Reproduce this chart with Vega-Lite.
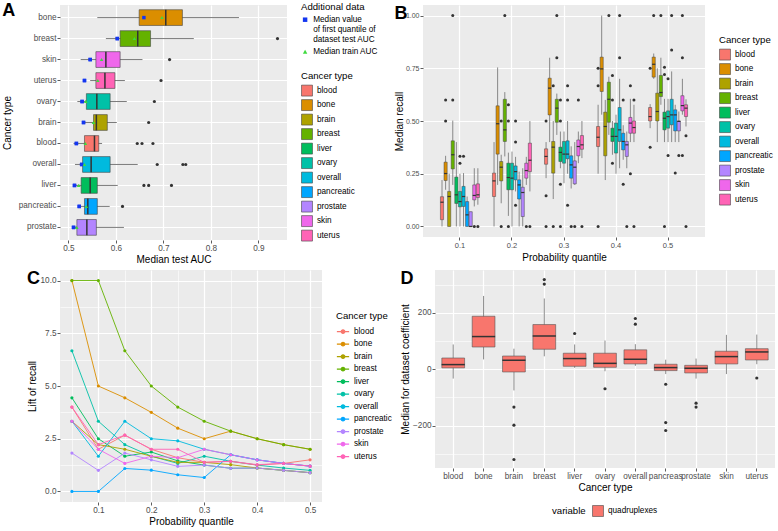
{
"$schema": "https://vega.github.io/schema/vega-lite/v6.json",
"background": "white",
"padding": {"left": 2, "top": 2, "right": 0, "bottom": 0},
"config": {
 "font": "Liberation Sans",
 "view": {"fill": "#EBEBEB", "stroke": null},
 "axis": {"domain": false, "grid": true, "gridColor": "#FFFFFF", "gridWidth": 1.2, "tickColor": "#333333", "tickSize": 3, "tickWidth": 0.8, "labelColor": "#4D4D4D", "labelFontSize": 8.2, "labelPadding": 1.5, "titleFontSize": 10, "titleFontWeight": "normal", "titleColor": "#000000", "titlePadding": 3},
 "legend": {"titleFontSize": 9.6, "titleFontWeight": "normal", "titleColor": "#000000", "labelFontSize": 8.2, "labelColor": "#000000", "symbolSize": 120, "symbolType": "square", "symbolStrokeColor": "#444444", "symbolStrokeWidth": 0.6, "symbolOpacity": 1, "rowPadding": 0.5, "titlePadding": 4, "offset": 14, "labelOffset": 4, "layout": {"right": {"anchor": "middle", "direction": "vertical", "margin": 16}, "bottom": {"anchor": "middle", "direction": "horizontal"}}},
 "title": {"fontSize": 18, "fontWeight": "bold", "anchor": "start", "frame": "bounds", "baseline": "top", "offset": -18, "color": "#000000"}
},
"datasets": {
 "a_box": [
  {"type":"bone","lower":0.561,"q1":0.649,"median":0.705,"q3":0.740,"upper":0.859},
  {"type":"breast","lower":0.579,"q1":0.609,"median":0.646,"q3":0.673,"upper":0.764},
  {"type":"skin","lower":0.526,"q1":0.558,"median":0.579,"q3":0.609,"upper":0.656},
  {"type":"uterus","lower":0.546,"q1":0.558,"median":0.577,"q3":0.598,"upper":0.619},
  {"type":"ovary","lower":0.519,"q1":0.538,"median":0.560,"q3":0.588,"upper":0.623},
  {"type":"brain","lower":0.535,"q1":0.553,"median":0.559,"q3":0.582,"upper":0.602},
  {"type":"blood","lower":0.511,"q1":0.534,"median":0.555,"q3":0.564,"upper":0.571},
  {"type":"overall","lower":0.514,"q1":0.530,"median":0.548,"q3":0.588,"upper":0.646},
  {"type":"liver","lower":0.511,"q1":0.527,"median":0.546,"q3":0.561,"upper":0.604},
  {"type":"pancreatic","lower":0.523,"q1":0.534,"median":0.541,"q3":0.561,"upper":0.587},
  {"type":"prostate","lower":0.511,"q1":0.518,"median":0.539,"q3":0.559,"upper":0.617}
 ],
 "a_out": [
  {"type":"breast","value":0.940},{"type":"skin","value":0.713},{"type":"uterus","value":0.695},{"type":"ovary","value":0.681},{"type":"brain","value":0.669},
  {"type":"blood","value":0.645},{"type":"blood","value":0.655},{"type":"blood","value":0.678},
  {"type":"overall","value":0.687},{"type":"overall","value":0.741},{"type":"overall","value":0.747},
  {"type":"liver","value":0.659},{"type":"liver","value":0.669},{"type":"liver","value":0.717},
  {"type":"pancreatic","value":0.614}
 ],
 "a_add": [
  {"type":"bone","series":"Median value of first quantile of dataset test AUC","value":0.659},{"type":"bone","series":"Median train AUC","value":0.697},
  {"type":"breast","series":"Median value of first quantile of dataset test AUC","value":0.603},{"type":"breast","series":"Median train AUC","value":0.639},
  {"type":"skin","series":"Median value of first quantile of dataset test AUC","value":0.546},{"type":"skin","series":"Median train AUC","value":0.570},
  {"type":"uterus","series":"Median value of first quantile of dataset test AUC","value":0.534},{"type":"uterus","series":"Median train AUC","value":0.562},
  {"type":"ovary","series":"Median value of first quantile of dataset test AUC","value":0.529},{"type":"ovary","series":"Median train AUC","value":0.537},
  {"type":"brain","series":"Median value of first quantile of dataset test AUC","value":0.532},{"type":"brain","series":"Median train AUC","value":0.553},
  {"type":"blood","series":"Median value of first quantile of dataset test AUC","value":0.517},{"type":"blood","series":"Median train AUC","value":0.536},
  {"type":"overall","series":"Median value of first quantile of dataset test AUC","value":0.528},{"type":"overall","series":"Median train AUC","value":0.534},
  {"type":"liver","series":"Median value of first quantile of dataset test AUC","value":0.513},{"type":"liver","series":"Median train AUC","value":0.522},
  {"type":"pancreatic","series":"Median value of first quantile of dataset test AUC","value":0.523},{"type":"pancreatic","series":"Median train AUC","value":0.538},
  {"type":"prostate","series":"Median value of first quantile of dataset test AUC","value":0.511},{"type":"prostate","series":"Median train AUC","value":0.518}
 ],
 "b_box": [
  {"type":"blood","q":0.1,"lower":0,"q1":0.032,"median":0.115,"q3":0.141,"upper":0.22},
  {"type":"bone","q":0.1,"lower":0.174,"q1":0.218,"median":0.251,"q3":0.305,"upper":0.335},
  {"type":"brain","q":0.1,"lower":0,"q1":0,"median":0.142,"q3":0.166,"upper":0.25},
  {"type":"breast","q":0.1,"lower":0.197,"q1":0.273,"median":0.34,"q3":0.406,"upper":0.502},
  {"type":"liver","q":0.1,"lower":0,"q1":0.109,"median":0.15,"q3":0.234,"upper":0.4},
  {"type":"ovary","q":0.1,"lower":0,"q1":0.093,"median":0.118,"q3":0.166,"upper":0.25},
  {"type":"overall","q":0.1,"lower":0,"q1":0.095,"median":0.142,"q3":0.19,"upper":0.253},
  {"type":"pancreatic","q":0.1,"lower":0,"q1":0,"median":0.055,"q3":0.118,"upper":0.142},
  {"type":"prostate","q":0.1,"lower":0,"q1":0,"median":0,"q3":0.07,"upper":0.07},
  {"type":"skin","q":0.1,"lower":0.095,"q1":0.126,"median":0.147,"q3":0.197,"upper":0.276},
  {"type":"uterus","q":0.1,"lower":0.103,"q1":0.137,"median":0.15,"q3":0.202,"upper":0.276},
  {"type":"blood","q":0.2,"lower":0,"q1":0.142,"median":0.216,"q3":0.253,"upper":0.40},
  {"type":"bone","q":0.2,"lower":0.197,"q1":0.343,"median":0.487,"q3":0.572,"upper":0.754},
  {"type":"brain","q":0.2,"lower":0.11,"q1":0.216,"median":0.281,"q3":0.308,"upper":0.34},
  {"type":"breast","q":0.2,"lower":0.332,"q1":0.403,"median":0.458,"q3":0.603,"upper":0.637},
  {"type":"liver","q":0.2,"lower":0.05,"q1":0.174,"median":0.232,"q3":0.30,"upper":0.35},
  {"type":"ovary","q":0.2,"lower":0,"q1":0.174,"median":0.229,"q3":0.30,"upper":0.355},
  {"type":"overall","q":0.2,"lower":0.166,"q1":0.221,"median":0.26,"q3":0.287,"upper":0.33},
  {"type":"pancreatic","q":0.2,"lower":0,"q1":0.13,"median":0.197,"q3":0.221,"upper":0.26},
  {"type":"prostate","q":0.2,"lower":0,"q1":0.047,"median":0.161,"q3":0.186,"upper":0.276},
  {"type":"skin","q":0.2,"lower":0.197,"q1":0.229,"median":0.265,"q3":0.30,"upper":0.33},
  {"type":"uterus","q":0.2,"lower":0.166,"q1":0.26,"median":0.314,"q3":0.395,"upper":0.50},
  {"type":"blood","q":0.3,"lower":0.229,"q1":0.295,"median":0.332,"q3":0.368,"upper":0.40},
  {"type":"bone","q":0.3,"lower":0.40,"q1":0.529,"median":0.656,"q3":0.703,"upper":0.80},
  {"type":"brain","q":0.3,"lower":0.13,"q1":0.253,"median":0.376,"q3":0.403,"upper":0.5},
  {"type":"breast","q":0.3,"lower":0.434,"q1":0.494,"median":0.561,"q3":0.603,"upper":0.63},
  {"type":"liver","q":0.3,"lower":0.276,"q1":0.308,"median":0.351,"q3":0.376,"upper":0.45},
  {"type":"ovary","q":0.3,"lower":0.205,"q1":0.30,"median":0.343,"q3":0.403,"upper":0.45},
  {"type":"overall","q":0.3,"lower":0.25,"q1":0.321,"median":0.343,"q3":0.406,"upper":0.5},
  {"type":"pancreatic","q":0.3,"lower":0.18,"q1":0.229,"median":0.292,"q3":0.335,"upper":0.38},
  {"type":"prostate","q":0.3,"lower":0.197,"q1":0.202,"median":0.281,"q3":0.311,"upper":0.40},
  {"type":"skin","q":0.3,"lower":0.30,"q1":0.335,"median":0.379,"q3":0.41,"upper":0.45},
  {"type":"uterus","q":0.3,"lower":0.324,"q1":0.366,"median":0.387,"q3":0.431,"upper":0.5},
  {"type":"blood","q":0.4,"lower":0.25,"q1":0.379,"median":0.423,"q3":0.474,"upper":0.577},
  {"type":"bone","q":0.4,"lower":0.53,"q1":0.64,"median":0.747,"q3":0.803,"upper":1.0},
  {"type":"brain","q":0.4,"lower":0.22,"q1":0.335,"median":0.474,"q3":0.542,"upper":0.6},
  {"type":"breast","q":0.4,"lower":0.434,"q1":0.494,"median":0.603,"q3":0.684,"upper":0.71},
  {"type":"liver","q":0.4,"lower":0.34,"q1":0.403,"median":0.427,"q3":0.466,"upper":0.5},
  {"type":"ovary","q":0.4,"lower":0.25,"q1":0.348,"median":0.427,"q3":0.49,"upper":0.53},
  {"type":"overall","q":0.4,"lower":0.276,"q1":0.403,"median":0.458,"q3":0.564,"upper":0.70},
  {"type":"pancreatic","q":0.4,"lower":0.316,"q1":0.363,"median":0.403,"q3":0.442,"upper":0.48},
  {"type":"prostate","q":0.4,"lower":0.276,"q1":0.332,"median":0.387,"q3":0.403,"upper":0.45},
  {"type":"skin","q":0.4,"lower":0.40,"q1":0.442,"median":0.49,"q3":0.517,"upper":0.605},
  {"type":"uterus","q":0.4,"lower":0.40,"q1":0.442,"median":0.469,"q3":0.50,"upper":0.577},
  {"type":"blood","q":0.5,"lower":0.466,"q1":0.50,"median":0.521,"q3":0.564,"upper":0.58},
  {"type":"bone","q":0.5,"lower":0.70,"q1":0.708,"median":0.769,"q3":0.803,"upper":0.82},
  {"type":"brain","q":0.5,"lower":0.40,"q1":0.50,"median":0.545,"q3":0.632,"upper":0.75},
  {"type":"breast","q":0.5,"lower":0.577,"q1":0.616,"median":0.635,"q3":0.716,"upper":0.80},
  {"type":"liver","q":0.5,"lower":0.40,"q1":0.458,"median":0.513,"q3":0.542,"upper":0.605},
  {"type":"ovary","q":0.5,"lower":0.40,"q1":0.466,"median":0.521,"q3":0.548,"upper":0.605},
  {"type":"overall","q":0.5,"lower":0.40,"q1":0.482,"median":0.529,"q3":0.603,"upper":0.735},
  {"type":"pancreatic","q":0.5,"lower":0.40,"q1":0.453,"median":0.529,"q3":0.553,"upper":0.577},
  {"type":"prostate","q":0.5,"lower":0.40,"q1":0.453,"median":0.498,"q3":0.50,"upper":0.545},
  {"type":"skin","q":0.5,"lower":0.53,"q1":0.548,"median":0.573,"q3":0.62,"upper":0.70},
  {"type":"uterus","q":0.5,"lower":0.474,"q1":0.521,"median":0.561,"q3":0.577,"upper":0.603}
 ],
 "b_out": [
  {"type":"bone","q":0.1,"value":0.6},{"type":"bone","q":0.1,"value":0.5},{"type":"breast","q":0.1,"value":0.6},{"type":"breast","q":0.1,"value":1.0},
  {"type":"ovary","q":0.1,"value":0.3},{"type":"ovary","q":0.1,"value":0.333},{"type":"overall","q":0.1,"value":0.333},{"type":"skin","q":0.1,"value":0},{"type":"uterus","q":0.1,"value":0},
  {"type":"brain","q":0.2,"value":0.5},{"type":"brain","q":0.2,"value":0},{"type":"breast","q":0.2,"value":1.0},
  {"type":"liver","q":0.2,"value":0.577},{"type":"liver","q":0.2,"value":0.5},{"type":"liver","q":0.2,"value":0},
  {"type":"overall","q":0.2,"value":0.5},{"type":"overall","q":0.2,"value":0.4},{"type":"overall","q":0.2,"value":0.1},
  {"type":"skin","q":0.2,"value":0},{"type":"uterus","q":0.2,"value":0},
  {"type":"blood","q":0.3,"value":0.5},{"type":"blood","q":0.3,"value":0.145},{"type":"blood","q":0.3,"value":0},
  {"type":"brain","q":0.3,"value":0.667},{"type":"brain","q":0.3,"value":0},{"type":"breast","q":0.3,"value":1.0},{"type":"breast","q":0.3,"value":0.8},
  {"type":"liver","q":0.3,"value":0.6},{"type":"liver","q":0.3,"value":0.5},{"type":"liver","q":0.3,"value":0.2},{"type":"liver","q":0.3,"value":0},
  {"type":"overall","q":0.3,"value":0.667},{"type":"overall","q":0.3,"value":0.6},{"type":"overall","q":0.3,"value":0.1},
  {"type":"pancreatic","q":0.3,"value":0},{"type":"prostate","q":0.3,"value":0},{"type":"skin","q":0.3,"value":0.6},{"type":"uterus","q":0.3,"value":0},
  {"type":"blood","q":0.4,"value":0.75},{"type":"blood","q":0.4,"value":0.667},{"type":"blood","q":0.4,"value":0},{"type":"breast","q":0.4,"value":1.0},
  {"type":"liver","q":0.4,"value":0.716},{"type":"liver","q":0.4,"value":0.6},{"type":"liver","q":0.4,"value":0.3},
  {"type":"overall","q":0.4,"value":1.0},{"type":"overall","q":0.4,"value":0.8},{"type":"pancreatic","q":0.4,"value":0.6},{"type":"pancreatic","q":0.4,"value":0.2},
  {"type":"prostate","q":0.4,"value":0},{"type":"skin","q":0.4,"value":0.667},{"type":"skin","q":0.4,"value":0.25},{"type":"uterus","q":0.4,"value":0.6},{"type":"uterus","q":0.4,"value":0},
  {"type":"blood","q":0.5,"value":0.75},{"type":"blood","q":0.5,"value":0.376},{"type":"bone","q":0.5,"value":1.0},{"type":"breast","q":0.5,"value":1.0},
  {"type":"liver","q":0.5,"value":0.755},{"type":"liver","q":0.5,"value":0.72},{"type":"liver","q":0.5,"value":0},
  {"type":"ovary","q":0.5,"value":0.70},{"type":"ovary","q":0.5,"value":0.336},{"type":"overall","q":0.5,"value":1.0},{"type":"overall","q":0.5,"value":0.837},
  {"type":"pancreatic","q":0.5,"value":0.253},{"type":"prostate","q":0.5,"value":0.336},
  {"type":"skin","q":0.5,"value":1.0},{"type":"skin","q":0.5,"value":0.8},{"type":"skin","q":0.5,"value":0.336},{"type":"uterus","q":0.5,"value":0.43},{"type":"uterus","q":0.5,"value":0}
 ],
 "c_line": [
  {"type":"bone","q":0.05,"lift":10},{"type":"bone","q":0.1,"lift":5},{"type":"bone","q":0.15,"lift":4.44},{"type":"bone","q":0.2,"lift":3.75},{"type":"bone","q":0.25,"lift":3},{"type":"bone","q":0.3,"lift":2.5},{"type":"bone","q":0.35,"lift":2.86},{"type":"bone","q":0.4,"lift":2.5},{"type":"bone","q":0.45,"lift":2.22},{"type":"bone","q":0.5,"lift":2.0},
  {"type":"breast","q":0.05,"lift":10},{"type":"breast","q":0.1,"lift":10},{"type":"breast","q":0.15,"lift":6.67},{"type":"breast","q":0.2,"lift":5},{"type":"breast","q":0.25,"lift":4},{"type":"breast","q":0.3,"lift":3.33},{"type":"breast","q":0.35,"lift":2.86},{"type":"breast","q":0.4,"lift":2.5},{"type":"breast","q":0.45,"lift":2.22},{"type":"breast","q":0.5,"lift":2.0},
  {"type":"ovary","q":0.05,"lift":6.67},{"type":"ovary","q":0.1,"lift":3.33},{"type":"ovary","q":0.15,"lift":2.22},{"type":"ovary","q":0.2,"lift":1.67},{"type":"ovary","q":0.25,"lift":1.33},{"type":"ovary","q":0.3,"lift":1.67},{"type":"ovary","q":0.35,"lift":1.43},{"type":"ovary","q":0.4,"lift":1.25},{"type":"ovary","q":0.45,"lift":1.11},{"type":"ovary","q":0.5,"lift":1.0},
  {"type":"liver","q":0.05,"lift":4.44},{"type":"liver","q":0.1,"lift":2.5},{"type":"liver","q":0.15,"lift":1.67},{"type":"liver","q":0.2,"lift":1.87},{"type":"liver","q":0.25,"lift":1.45},{"type":"liver","q":0.3,"lift":1.25},{"type":"liver","q":0.35,"lift":1.1},{"type":"liver","q":0.4,"lift":1.11},{"type":"liver","q":0.45,"lift":1.0},{"type":"liver","q":0.5,"lift":0.89},
  {"type":"blood","q":0.05,"lift":4.0},{"type":"blood","q":0.1,"lift":2.0},{"type":"blood","q":0.15,"lift":2.67},{"type":"blood","q":0.2,"lift":2.0},{"type":"blood","q":0.25,"lift":1.6},{"type":"blood","q":0.3,"lift":1.38},{"type":"blood","q":0.35,"lift":1.43},{"type":"blood","q":0.4,"lift":1.25},{"type":"blood","q":0.45,"lift":1.33},{"type":"blood","q":0.5,"lift":1.5},
  {"type":"brain","q":0.05,"lift":3.33},{"type":"brain","q":0.1,"lift":2.22},{"type":"brain","q":0.15,"lift":2.0},{"type":"brain","q":0.2,"lift":1.67},{"type":"brain","q":0.25,"lift":1.38},{"type":"brain","q":0.3,"lift":1.38},{"type":"brain","q":0.35,"lift":1.27},{"type":"brain","q":0.4,"lift":1.11},{"type":"brain","q":0.45,"lift":1.0},{"type":"brain","q":0.5,"lift":0.89},
  {"type":"overall","q":0.05,"lift":3.33},{"type":"overall","q":0.1,"lift":1.67},{"type":"overall","q":0.15,"lift":3.33},{"type":"overall","q":0.2,"lift":2.5},{"type":"overall","q":0.25,"lift":2.4},{"type":"overall","q":0.3,"lift":2.0},{"type":"overall","q":0.35,"lift":1.74},{"type":"overall","q":0.4,"lift":1.5},{"type":"overall","q":0.45,"lift":1.33},{"type":"overall","q":0.5,"lift":1.2},
  {"type":"pancreatic","q":0.05,"lift":0},{"type":"pancreatic","q":0.1,"lift":0},{"type":"pancreatic","q":0.15,"lift":1.09},{"type":"pancreatic","q":0.2,"lift":1.01},{"type":"pancreatic","q":0.25,"lift":0.79},{"type":"pancreatic","q":0.3,"lift":0.66},{"type":"pancreatic","q":0.35,"lift":1.74},{"type":"pancreatic","q":0.4,"lift":1.5},{"type":"pancreatic","q":0.45,"lift":1.33},{"type":"pancreatic","q":0.5,"lift":1.2},
  {"type":"prostate","q":0.05,"lift":1.82},{"type":"prostate","q":0.1,"lift":1.0},{"type":"prostate","q":0.15,"lift":1.82},{"type":"prostate","q":0.2,"lift":1.5},{"type":"prostate","q":0.25,"lift":1.19},{"type":"prostate","q":0.3,"lift":1.25},{"type":"prostate","q":0.35,"lift":1.1},{"type":"prostate","q":0.4,"lift":1.11},{"type":"prostate","q":0.45,"lift":1.0},{"type":"prostate","q":0.5,"lift":0.89},
  {"type":"skin","q":0.05,"lift":3.33},{"type":"skin","q":0.1,"lift":2.0},{"type":"skin","q":0.15,"lift":1.33},{"type":"skin","q":0.2,"lift":1.67},{"type":"skin","q":0.25,"lift":1.6},{"type":"skin","q":0.3,"lift":2.0},{"type":"skin","q":0.35,"lift":1.74},{"type":"skin","q":0.4,"lift":1.5},{"type":"skin","q":0.45,"lift":1.33},{"type":"skin","q":0.5,"lift":1.2},
  {"type":"uterus","q":0.05,"lift":4.0},{"type":"uterus","q":0.1,"lift":2.22},{"type":"uterus","q":0.15,"lift":2.67},{"type":"uterus","q":0.2,"lift":2.0},{"type":"uterus","q":0.25,"lift":2.0},{"type":"uterus","q":0.3,"lift":1.38},{"type":"uterus","q":0.35,"lift":1.43},{"type":"uterus","q":0.4,"lift":1.27},{"type":"uterus","q":0.45,"lift":1.33},{"type":"uterus","q":0.5,"lift":1.2}
 ],
 "d_box": [
  {"type":"blood","variable":"quadruplexes","lower":-33,"q1":5,"median":16.6,"q3":40,"upper":88},
  {"type":"bone","variable":"quadruplexes","lower":35,"q1":79,"median":116,"q3":188,"upper":260},
  {"type":"brain","variable":"quadruplexes","lower":-75,"q1":-9.5,"median":32,"q3":47,"upper":73},
  {"type":"breast","variable":"quadruplexes","lower":46,"q1":71,"median":118,"q3":158.6,"upper":251},
  {"type":"liver","variable":"quadruplexes","lower":5,"q1":10.6,"median":38,"q3":57,"upper":88},
  {"type":"ovary","variable":"quadruplexes","lower":-7,"q1":7,"median":21,"q3":57,"upper":102},
  {"type":"overall","variable":"quadruplexes","lower":12,"q1":19,"median":35.5,"q3":69,"upper":89},
  {"type":"pancreas","variable":"quadruplexes","lower":-17,"q1":-4.7,"median":6,"q3":17.8,"upper":34},
  {"type":"prostate","variable":"quadruplexes","lower":-33,"q1":-13,"median":3.6,"q3":14,"upper":38},
  {"type":"skin","variable":"quadruplexes","lower":-17,"q1":19,"median":45,"q3":64,"upper":122},
  {"type":"uterus","variable":"quadruplexes","lower":18,"q1":33,"median":61.5,"q3":73,"upper":123}
 ],
 "d_out": [
  {"type":"brain","value":-134},{"type":"brain","value":-198},{"type":"brain","value":-320},
  {"type":"breast","value":302},{"type":"breast","value":318},{"type":"liver","value":127},{"type":"ovary","value":-69},
  {"type":"overall","value":160},{"type":"overall","value":180},
  {"type":"pancreas","value":-53},{"type":"pancreas","value":-189},{"type":"pancreas","value":-217},
  {"type":"prostate","value":-120},{"type":"prostate","value":-134},{"type":"uterus","value":-31}
 ]
},
"vconcat": [
 {"hconcat": [
  {
   "title": {"text": "A"},
   "width": 227, "height": 235,
   "layer": [
    {"data": {"name": "a_add"}, "mark": {"type": "point", "filled": true, "size": 12, "opacity": 1},
     "encoding": {
      "y": {"field": "type", "type": "nominal", "scale": {"domain": ["bone","breast","skin","uterus","ovary","brain","blood","overall","liver","pancreatic","prostate"], "paddingInner": 0.25, "paddingOuter": 0.225}, "axis": {"title": "Cancer type", "bandPosition": 0.5, "titlePadding": 6, "labelPadding": 1}},
      "x": {"field": "value", "type": "quantitative", "scale": {"domain": [0.4825, 0.96], "nice": false, "zero": false}, "axis": {"title": "Median test AUC", "values": [0.5,0.55,0.6,0.65,0.7,0.75,0.8,0.85,0.9,0.95], "format": ".1f", "labelExpr": "round(datum.value*100) % 10 == 5 ? '' : datum.label", "gridWidth": {"condition": {"test": "round(datum.value*100) % 10 == 5", "value": 0.6}, "value": 1.2}, "tickOpacity": {"condition": {"test": "round(datum.value*100) % 10 == 5", "value": 0}, "value": 1}}},
      "color": {"field": "series", "type": "nominal", "scale": {"domain": ["Median value of first quantile of dataset test AUC","Median train AUC"], "range": ["#1436F0","#3EDB3E"]}, "legend": {"title": "Additional data", "symbolSize": 20, "symbolStrokeWidth": 0, "rowPadding": 3, "labelExpr": "datum.label == 'Median train AUC' ? datum.label : ['Median value', 'of first quantile of', 'dataset test AUC']"}},
      "shape": {"field": "series", "type": "nominal", "scale": {"domain": ["Median value of first quantile of dataset test AUC","Median train AUC"], "range": ["square","triangle-up"]}, "legend": {"title": "Additional data", "symbolSize": 20, "symbolStrokeWidth": 0, "rowPadding": 3, "labelExpr": "datum.label == 'Median train AUC' ? datum.label : ['Median value', 'of first quantile of', 'dataset test AUC']"}}}},
    {"data": {"name": "a_box"}, "mark": {"type": "rule", "color": "#595959", "strokeWidth": 0.8},
     "encoding": {
      "y": {"field": "type", "type": "nominal", "scale": {"domain": ["bone","breast","skin","uterus","ovary","brain","blood","overall","liver","pancreatic","prostate"]}},
      "x": {"field": "lower", "type": "quantitative"},
      "x2": {"field": "upper"}}},
    {"data": {"name": "a_box"}, "mark": {"type": "bar", "stroke": "#444444", "strokeWidth": 0.6},
     "encoding": {
      "y": {"field": "type", "type": "nominal", "scale": {"domain": ["bone","breast","skin","uterus","ovary","brain","blood","overall","liver","pancreatic","prostate"]}},
      "x": {"field": "q1", "type": "quantitative"},
      "x2": {"field": "q3"},
      "fill": {"field": "type", "type": "nominal", "scale": {"domain": ["blood","bone","brain","breast","liver","ovary","overall","pancreatic","prostate","skin","uterus"], "range": ["#F8766D","#DB8E00","#AEA200","#64B200","#00BD5C","#00C1A7","#00BADE","#00A6FF","#B385FF","#EF67EB","#FF63B6"]}, "legend": {"title": "Cancer type"}}}},
    {"data": {"name": "a_box"}, "mark": {"type": "tick", "orient": "vertical", "color": "#333333", "thickness": 1.5, "size": 15.7, "opacity": 1},
     "encoding": {
      "y": {"field": "type", "type": "nominal", "scale": {"domain": ["bone","breast","skin","uterus","ovary","brain","blood","overall","liver","pancreatic","prostate"]}},
      "x": {"field": "median", "type": "quantitative"}}},
    {"data": {"name": "a_out"}, "mark": {"type": "circle", "color": "#333333", "size": 10, "opacity": 1},
     "encoding": {
      "y": {"field": "type", "type": "nominal", "scale": {"domain": ["bone","breast","skin","uterus","ovary","brain","blood","overall","liver","pancreatic","prostate"]}},
      "x": {"field": "value", "type": "quantitative"}}},
    {"data": {"name": "a_add"}, "mark": {"type": "point", "filled": true, "size": 12, "opacity": 1},
     "encoding": {
      "y": {"field": "type", "type": "nominal", "scale": {"domain": ["bone","breast","skin","uterus","ovary","brain","blood","overall","liver","pancreatic","prostate"]}},
      "x": {"field": "value", "type": "quantitative"},
      "color": {"field": "series", "type": "nominal"},
      "shape": {"field": "series", "type": "nominal"}}}
   ]
  },
  {
   "title": {"text": "B"},
   "width": 282, "height": 232,
   "layer": [
    {"data": {"name": "b_box"}, "mark": {"type": "rule", "color": "#6E6E6E", "strokeWidth": 0.8},
     "encoding": {
      "x": {"field": "q", "type": "ordinal", "scale": {"paddingInner": 0.25, "paddingOuter": 0.335}, "axis": {"title": "Probability quantile", "bandPosition": 0.5, "labelAngle": 0, "labelFontSize": 7.5}},
      "xOffset": {"field": "type", "type": "nominal", "scale": {"domain": ["blood","bone","brain","breast","liver","ovary","overall","pancreatic","prostate","skin","uterus"], "paddingInner": 0.12, "paddingOuter": 0}},
      "y": {"field": "lower", "type": "quantitative", "scale": {"domain": [-0.05, 1.05], "nice": false}, "axis": {"title": "Median recall", "values": [0,0.125,0.25,0.375,0.5,0.625,0.75,0.875,1], "format": ".2f", "labelFontSize": 7, "titlePadding": 1, "labelPadding": 1, "labelExpr": "round(datum.value*1000) % 250 == 125 ? '' : datum.label", "gridWidth": {"condition": {"test": "round(datum.value*1000) % 250 == 125", "value": 0.6}, "value": 1.2}, "tickOpacity": {"condition": {"test": "round(datum.value*1000) % 250 == 125", "value": 0}, "value": 1}}},
      "y2": {"field": "upper"}}},
    {"data": {"name": "b_box"}, "mark": {"type": "bar", "stroke": "#444444", "strokeWidth": 0.5},
     "encoding": {
      "x": {"field": "q", "type": "ordinal"},
      "xOffset": {"field": "type", "type": "nominal", "scale": {"domain": ["blood","bone","brain","breast","liver","ovary","overall","pancreatic","prostate","skin","uterus"]}},
      "y": {"field": "q1", "type": "quantitative"},
      "y2": {"field": "q3"},
      "color": {"field": "type", "type": "nominal", "scale": {"domain": ["blood","bone","brain","breast","liver","ovary","overall","pancreatic","prostate","skin","uterus"], "range": ["#F8766D","#DB8E00","#AEA200","#64B200","#00BD5C","#00C1A7","#00BADE","#00A6FF","#B385FF","#EF67EB","#FF63B6"]}, "legend": {"title": "Cancer type"}}}},
    {"data": {"name": "b_box"}, "mark": {"type": "tick", "orient": "horizontal", "color": "#333333", "thickness": 1.2, "size": 3.2, "opacity": 1},
     "encoding": {
      "x": {"field": "q", "type": "ordinal"},
      "xOffset": {"field": "type", "type": "nominal", "scale": {"domain": ["blood","bone","brain","breast","liver","ovary","overall","pancreatic","prostate","skin","uterus"]}},
      "y": {"field": "median", "type": "quantitative"}}},
    {"data": {"name": "b_out"}, "mark": {"type": "circle", "color": "#333333", "size": 9, "opacity": 1},
     "encoding": {
      "x": {"field": "q", "type": "ordinal"},
      "xOffset": {"field": "type", "type": "nominal", "scale": {"domain": ["blood","bone","brain","breast","liver","ovary","overall","pancreatic","prostate","skin","uterus"]}},
      "y": {"field": "value", "type": "quantitative"}}}
   ]
  }
 ],
 "spacing": 16,
 "resolve": {"scale": {"color": "independent", "fill": "independent", "shape": "independent"}}
 },
 {"hconcat": [
  {
   "title": {"text": "C"},
   "width": 262, "height": 232,
   "data": {"name": "c_line"},
   "layer": [
    {"mark": {"type": "line", "strokeWidth": 0.9},
     "encoding": {
      "x": {"field": "q", "type": "quantitative", "scale": {"domain": [0.0275, 0.5225], "nice": false, "zero": false}, "axis": {"title": "Probability quantile", "values": [0.1,0.2,0.3,0.4,0.5], "format": ".1f"}},
      "y": {"field": "lift", "type": "quantitative", "scale": {"domain": [-0.5, 10.5], "nice": false}, "axis": {"title": "Lift of recall", "values": [0,2.5,5,7.5,10], "format": ".1f", "titlePadding": 3, "labelPadding": 1}},
      "color": {"field": "type", "type": "nominal", "scale": {"domain": ["blood","bone","brain","breast","liver","ovary","overall","pancreatic","prostate","skin","uterus"], "range": ["#F8766D","#DB8E00","#AEA200","#64B200","#00BD5C","#00C1A7","#00BADE","#00A6FF","#B385FF","#EF67EB","#FF63B6"]}, "legend": {"title": "Cancer type", "symbolType": "M-1,0L-0.3,0M0.3,0L1,0M-0.3,0A0.3,0.3,0,1,0,0.3,0A0.3,0.3,0,1,0,-0.3,0", "symbolStrokeWidth": 1.2, "symbolSize": 150}}}},
    {"mark": {"type": "circle", "size": 10, "opacity": 1},
     "encoding": {
      "x": {"field": "q", "type": "quantitative", "axis": {"values": [0.05,0.15,0.25,0.35,0.45], "grid": true, "gridWidth": 0.6, "labels": false, "ticks": false, "domain": false, "title": null, "offset": 0, "minExtent": 0, "maxExtent": 0, "tickSize": 0, "labelPadding": 0, "titlePadding": 0}},
      "y": {"field": "lift", "type": "quantitative", "axis": {"values": [1.25,3.75,6.25,8.75], "grid": true, "gridWidth": 0.6, "labels": false, "ticks": false, "domain": false, "title": null, "offset": 0, "minExtent": 0, "maxExtent": 0, "tickSize": 0, "labelPadding": 0, "titlePadding": 0}},
      "color": {"field": "type", "type": "nominal", "legend": null}}}
   ],
   "resolve": {"axis": {"x": "independent", "y": "independent"}}
  },
  {
   "title": {"text": "D"},
   "width": 340, "height": 198,
   "layer": [
    {"data": {"name": "d_box"}, "mark": {"type": "rule", "color": "#6E6E6E", "strokeWidth": 0.8},
     "encoding": {
      "x": {"field": "type", "type": "nominal", "scale": {"paddingInner": 0.25, "paddingOuter": 0.225}, "axis": {"title": "Cancer type", "bandPosition": 0.5, "labelAngle": 0}},
      "y": {"field": "lower", "type": "quantitative", "scale": {"domain": [-350, 352], "nice": false}, "axis": {"title": "Median for dataset coefficient", "values": [-200,0,200], "titlePadding": 2, "labelPadding": 1}},
      "y2": {"field": "upper"}}},
    {"data": {"name": "d_box"}, "mark": {"type": "bar", "stroke": "#555555", "strokeWidth": 0.6},
     "encoding": {
      "x": {"field": "type", "type": "nominal"},
      "y": {"field": "q1", "type": "quantitative", "axis": null},
      "y2": {"field": "q3"},
      "fill": {"field": "variable", "type": "nominal", "scale": {"range": ["#F8766D"]}, "legend": {"title": "variable", "orient": "bottom", "direction": "horizontal", "titleOrient": "left", "titlePadding": 6, "offset": 12}}}},
    {"data": {"name": "d_box"}, "mark": {"type": "tick", "orient": "horizontal", "color": "#333333", "thickness": 1.5, "size": 23.2, "opacity": 1},
     "encoding": {
      "x": {"field": "type", "type": "nominal"},
      "y": {"field": "median", "type": "quantitative", "axis": null}}},
    {"data": {"name": "d_out"}, "mark": {"type": "circle", "color": "#333333", "size": 10, "opacity": 1},
     "encoding": {
      "x": {"field": "type", "type": "nominal"},
      "y": {"field": "value", "type": "quantitative", "axis": {"values": [-300,-100,100,300], "grid": true, "gridWidth": 0.6, "labels": false, "ticks": false, "domain": false, "title": null, "offset": 0, "minExtent": 0, "maxExtent": 0, "tickSize": 0, "labelPadding": 0, "titlePadding": 0}}}}
   ],
   "resolve": {"axis": {"y": "independent"}}
  }
 ],
 "spacing": 8,
 "resolve": {"scale": {"color": "independent", "fill": "independent", "shape": "independent"}}
 }
],
"spacing": 5,
"resolve": {"scale": {"color": "independent", "fill": "independent", "shape": "independent"}}
}
